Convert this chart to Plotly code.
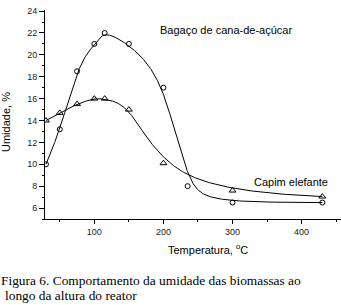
import numpy as np
import plotly.graph_objects as go

# ---- data ----
temp_bagaco = [30, 50, 75, 100, 115, 150, 200, 235, 300, 430]
umid_bagaco = [10.0, 13.2, 18.5, 21.0, 22.0, 21.0, 17.0, 8.0, 6.5, 6.5]
temp_capim = [30, 50, 75, 100, 115, 150, 200, 300, 430]
umid_capim = [14.0, 14.7, 15.5, 16.0, 16.0, 15.0, 10.1, 7.6, 7.05]
x_ticks = [100, 200, 300, 400]
y_ticks = [6, 8, 10, 12, 14, 16, 18, 20, 22, 24]

W, H = 341, 305
ML, MR, MT, MB = 45, 0, 10, 86
PW, PH = W - ML - MR, H - MT - MB


def px(x):
    return (x - ML) / PW


def py(y):
    return (H - MB - y) / PH


K = 3


def knots(n, k=K):
    return np.concatenate([np.zeros(k), np.arange(n - k + 1), np.full(k, n - k)]).astype(float)


def eval_bspline(C, us, k=K):
    C = np.asarray(C, dtype=float)
    n = len(C)
    t = knots(n, k)
    out = []
    for u in us:
        j = int(np.searchsorted(t, u, side="right")) - 1
        j = max(k, min(j, n - 1))
        d = [C[j - k + r].copy() for r in range(k + 1)]
        for r in range(1, k + 1):
            for i in range(k, r - 1, -1):
                den = t[i + 1 + j - r] - t[i + j - k]
                a = 0.0 if den == 0 else (u - t[i + j - k]) / den
                d[i] = (1 - a) * d[i - 1] + a * d[i]
        out.append(d[k])
    return np.array(out)


def smooth_curve(xs, ys, beta=0.5, num=600, k=K):
    """Cubic B-spline whose control polygon is pulled part-way toward interpolation."""
    P = np.column_stack([xs, ys]).astype(float)
    n = len(P)
    t = knots(n, k)
    grev = np.array([t[i + 1:i + k + 1].mean() for i in range(n)])
    N = eval_bspline(np.eye(n), grev, k)
    Qi = np.linalg.solve(N, P)
    Q = P + beta * (Qi - P)
    c = eval_bspline(Q, np.linspace(0, n - k, num), k)
    return c[:, 0], c[:, 1]


fig = go.Figure()
for xs, ys, sym, msize in [(temp_bagaco, umid_bagaco, "circle-open", 5),
                           (temp_capim, umid_capim, "triangle-up-open", 6)]:
    cx, cy = smooth_curve(xs, ys)
    fig.add_trace(go.Scatter(x=cx, y=cy, mode="lines",
                             line=dict(color="black", width=1), hoverinfo="skip"))
    fig.add_trace(go.Scatter(x=xs, y=ys, mode="markers",
                             marker=dict(symbol=sym, size=msize, color="black",
                                         line=dict(width=1, color="black"))))

tickfont = dict(family="Liberation Sans, Arial", size=9, color="#222")
fig.update_xaxes(range=[28.6, 457], tickvals=x_ticks, ticks="outside", ticklen=4,
                 tickwidth=1, tickcolor="black", showline=True, linecolor="black",
                 linewidth=1, showgrid=False, zeroline=False, tickfont=tickfont,
                 minor=dict(tickvals=[50, 150, 250, 350, 450], ticks="outside",
                            ticklen=2, tickcolor="black"))
fig.update_yaxes(range=[5, 24.1], tickvals=y_ticks, ticks="outside", ticklen=5,
                 tickwidth=1, tickcolor="black", showline=True, linecolor="black",
                 linewidth=1, showgrid=False, zeroline=False, tickfont=tickfont,
                 minor=dict(tickvals=list(range(5, 25, 2)), ticks="outside",
                            ticklen=2, tickcolor="black"))

sans = dict(family="Liberation Sans, Arial", size=11, color="black")
serif = dict(family="Liberation Serif, Times New Roman", size=13.4, color="black")
ann = [
    dict(text="Bagaço de cana-de-açúcar", x=px(226), y=py(30), font=sans),
    dict(text="Capim elefante", x=px(291), y=py(182), font=sans),
    dict(text="Temperatura, <sup>o</sup>C", x=px(208), y=py(249), font=sans),
    dict(text="Umidade, %", x=px(6), y=py(122), font=sans, textangle=-90),
    dict(text="Figura 6. Comportamento da umidade das biomassas ao", x=px(-1), y=py(280),
         font=serif, xanchor="left"),
    dict(text="longo da altura do reator", x=px(3), y=py(295), font=serif, xanchor="left"),
]
for a in ann:
    a.setdefault("xanchor", "center")
    fig.add_annotation(xref="paper", yref="paper", showarrow=False, yanchor="middle", **a)

fig.update_layout(width=W, height=H, margin=dict(l=ML, r=MR, t=MT, b=MB),
                  paper_bgcolor="white", plot_bgcolor="white", showlegend=False)
fig.write_html("out.html", config={"displayModeBar": False},
               post_script="document.body.style.margin='0';document.body.style.overflow='hidden';")
